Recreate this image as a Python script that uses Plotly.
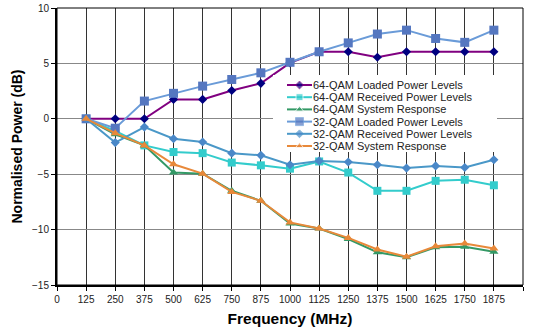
import plotly.graph_objects as go

freq = [125, 250, 375, 500, 625, 750, 875, 1000, 1125, 1250, 1375, 1500, 1625, 1750, 1875]

qam64_loaded = [0, 0, 0, 1.75, 1.75, 2.55, 3.2, 5.05, 6.05, 6.05, 5.55, 6.05, 6.05, 6.05, 6.05]
qam64_received = [0, -1.1, -2.4, -3.0, -3.1, -3.95, -4.2, -4.5, -3.85, -4.85, -6.5, -6.5, -5.6, -5.5, -6.0]
qam64_system = [0, -1.4, -2.4, -4.85, -4.95, -6.5, -7.4, -9.45, -9.9, -10.85, -12.05, -12.5, -11.6, -11.55, -12.0]
qam32_loaded = [0, -0.85, 1.6, 2.3, 2.95, 3.55, 4.15, 5.1, 6.05, 6.85, 7.65, 8.0, 7.25, 6.9, 8.0]
qam32_received = [0, -2.15, -0.75, -1.8, -2.1, -3.1, -3.3, -4.15, -3.8, -3.9, -4.15, -4.45, -4.25, -4.4, -3.7]
qam32_system = [0, -1.3, -2.4, -4.1, -4.95, -6.6, -7.4, -9.35, -9.9, -10.75, -11.8, -12.45, -11.5, -11.25, -11.7]

x_ticks = list(range(0, 2001, 125))
y_ticks = [-15, -10, -5, 0, 5, 10]

series = [
    ("64-QAM Loaded Power Levels", qam64_loaded, "#800080", "#000080", "diamond", 7),
    ("64-QAM Received Power Levels", qam64_received, "#33CCCC", "#33CCCC", "square", 8),
    ("64-QAM System Response", qam64_system, "#339966", "#339966", "triangle-up", 8),
    ("32-QAM Loaded Power Levels", qam32_loaded, "#6A9BD8", "#5577C0", "square", 9),
    ("32-QAM Received Power Levels", qam32_received, "#4A98C8", "#4A88C8", "diamond", 7),
    ("32-QAM System Response", qam32_system, "#E8893A", "#E8893A", "triangle-up", 8),
]

# plot-area geometry in pixels (used for the hand-made legend overlay)
W, H = 533, 329
ML, MR, MT, MB = 57, 10, 8, 44
PX0, PX1 = ML, W - MR
PY0, PY1 = MT, H - MB

fig = go.Figure()
for name, vals, lc, mc, sym, sz in series:
    fig.add_trace(go.Scatter(
        x=freq, y=vals, name=name, mode="lines+markers",
        line=dict(color=lc, width=2),
        marker=dict(symbol=sym, size=sz, color=mc),
        showlegend=False,
    ))

# white legend background (covers grid, below data)
box_x0, box_x1, box_y0, box_y1 = 273, 497, 75, 152
fig.add_trace(go.Scatter(
    x=[box_x0, box_x1, box_x1, box_x0, box_x0],
    y=[box_y0, box_y0, box_y1, box_y1, box_y0],
    xaxis="x2", yaxis="y2", mode="lines", fill="toself",
    fillcolor="white", line=dict(width=0, color="white"),
    showlegend=False, hoverinfo="skip",
))

# ---- compact legend (overlay axis in pixel units) ----
leg_x0, leg_x1 = 287, 312
leg_y_first, leg_dy = 85, 12.2
annotations = []
for i, (name, vals, lc, mc, sym, sz) in enumerate(series):
    yy = leg_y_first + i * leg_dy
    fig.add_trace(go.Scatter(
        x=[leg_x0, (leg_x0 + leg_x1) / 2, leg_x1], y=[yy, yy, yy],
        mode="lines+markers", xaxis="x2", yaxis="y2",
        line=dict(color=lc, width=2),
        marker=dict(symbol=sym, size=[0, sz - 1, 0], color=mc),
        showlegend=False, hoverinfo="skip",
    ))
    annotations.append(dict(
        x=leg_x1, y=yy, xref="x2", yref="y2", text=name, showarrow=False,
        xanchor="left", yanchor="middle", borderpad=0,
        font=dict(family="Liberation Sans, Arial", size=11, color="#222"),
    ))

fig.update_layout(
    width=W, height=H,
    margin=dict(l=ML, r=MR, t=MT, b=MB),
    paper_bgcolor="white", plot_bgcolor="white",
    font=dict(family="Liberation Sans, Arial", size=10, color="#222"),
    showlegend=False,
    annotations=annotations,
    xaxis=dict(
        range=[0, 2000], tickvals=x_ticks, ticktext=[str(t) for t in x_ticks],
        showgrid=True, gridcolor="#333", gridwidth=1,
        showline=True, linecolor="black", linewidth=2,
        ticks="outside", ticklen=4, tickcolor="black",
        title=dict(text="<b>Frequency (MHz)</b>", font=dict(size=15.5, color="black"), standoff=9),
        zeroline=False, automargin=False,
    ),
    yaxis=dict(
        range=[-15, 10], tickvals=y_ticks,
        showgrid=True, gridcolor="#888", gridwidth=1,
        showline=True, linecolor="black", linewidth=2,
        ticks="outside", ticklen=4, tickcolor="black",
        title=dict(text="<b>Normalised Power (dB)</b>", font=dict(size=14, color="black"), standoff=6),
        zeroline=False, automargin=False,
    ),
    xaxis2=dict(overlaying="x", range=[PX0, PX1], visible=False, fixedrange=True),
    yaxis2=dict(overlaying="y", range=[PY1, PY0], visible=False, fixedrange=True),
)
# thin top/right border
fig.add_shape(type="rect", xref="paper", yref="paper", x0=0, y0=0, x1=1, y1=1,
              line=dict(color="black", width=1), layer="above")

fig.write_html("out.html")
